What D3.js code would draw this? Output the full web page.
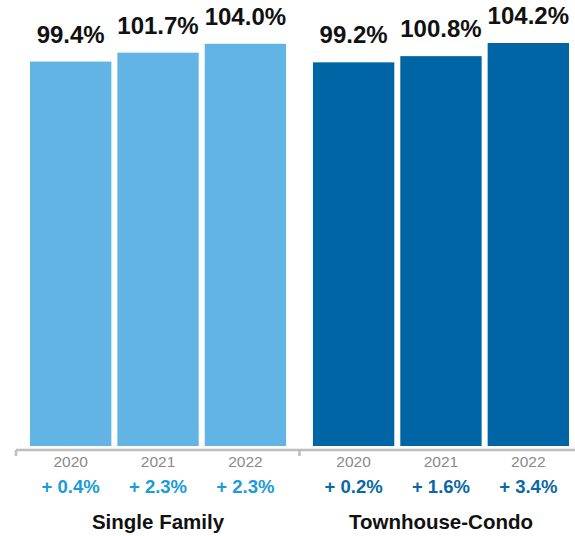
<!DOCTYPE html>
<html>
<head>
<meta charset="utf-8">
<script src="https://cdn.jsdelivr.net/npm/d3@7"></script>
<style>
  html, body { margin: 0; padding: 0; background: #fff; }
  svg { display: block; font-family: "Liberation Sans", Arial, Helvetica, sans-serif; }
</style>
</head>
<body>
<div id="chart"></div>
<script>
const groups = ["Single Family", "Townhouse-Condo"];
const years = ["2020", "2021", "2022"];
const singleFamilyValues = [99.4, 101.7, 104.0];
const townhouseValues = [99.2, 100.8, 104.2];
const singleFamilyChanges = ["+ 0.4%", "+ 2.3%", "+ 2.3%"];
const townhouseChanges = ["+ 0.2%", "+ 1.6%", "+ 3.4%"];

const barColors = ["#62b4e4", "#0065a4"];
const changeColors = ["#1b9bd8", "#0b67a6"];

const W = 575, H = 536;
const svg = d3.select("#chart").append("svg").attr("width", W).attr("height", H);

const data = [
  { group: groups[0], values: singleFamilyValues, changes: singleFamilyChanges },
  { group: groups[1], values: townhouseValues, changes: townhouseChanges }
];

const x0 = d3.scaleBand().domain(groups).range([30, 569]).paddingInner(0.095).paddingOuter(0);
const x1 = d3.scaleBand().domain(years).range([0, x0.bandwidth()]).paddingInner(0.0687).paddingOuter(0);
const y = d3.scaleLinear().domain([0, 104.2]).range([446, 43]);

// axis bracket
const axisY = 450;
const ext = 14;
const axisG = svg.append("g");
axisG.append("line")
  .attr("x1", x0(groups[0]) - ext).attr("x2", x0(groups[1]) + x0.bandwidth() + ext)
  .attr("y1", axisY).attr("y2", axisY)
  .attr("stroke", "#bdbdbd").attr("stroke-width", 2.5);
const tickXs = [x0(groups[0]) - ext, (x0(groups[0]) + x0.bandwidth() + x0(groups[1])) / 2, x0(groups[1]) + x0.bandwidth() + ext];
axisG.selectAll("line.tick").data(tickXs).join("line")
  .attr("class", "tick")
  .attr("x1", d => d).attr("x2", d => d)
  .attr("y1", axisY).attr("y2", axisY + 6)
  .attr("stroke", "#bdbdbd").attr("stroke-width", 2.5);

const g = svg.selectAll("g.grp").data(data).join("g")
  .attr("class", "grp")
  .attr("transform", d => `translate(${x0(d.group)},0)`);

g.each(function(d, gi) {
  const sel = d3.select(this);
  const rows = years.map((yr, i) => ({ yr, v: d.values[i], c: d.changes[i] }));
  sel.selectAll("rect").data(rows).join("rect")
    .attr("x", r => x1(r.yr))
    .attr("y", r => y(r.v))
    .attr("width", x1.bandwidth())
    .attr("height", r => y(0) - y(r.v))
    .attr("fill", barColors[gi]);
  sel.selectAll("text.val").data(rows).join("text")
    .attr("class", "val")
    .attr("x", r => x1(r.yr) + x1.bandwidth() / 2)
    .attr("y", r => y(r.v) - 19)
    .attr("text-anchor", "middle")
    .attr("font-size", 24).attr("font-weight", "bold").attr("fill", "#111")
    .text(r => r.v.toFixed(1) + "%");
  sel.selectAll("text.yr").data(rows).join("text")
    .attr("class", "yr")
    .attr("x", r => x1(r.yr) + x1.bandwidth() / 2)
    .attr("y", 467)
    .attr("text-anchor", "middle")
    .attr("font-size", 15.5).attr("fill", "#8a8a8a")
    .text(r => r.yr);
  sel.selectAll("text.chg").data(rows).join("text")
    .attr("class", "chg")
    .attr("x", r => x1(r.yr) + x1.bandwidth() / 2)
    .attr("y", 493)
    .attr("text-anchor", "middle")
    .attr("font-size", 18.5).attr("font-weight", "bold").attr("fill", changeColors[gi])
    .text(r => r.c);
  sel.append("text")
    .attr("x", x0.bandwidth() / 2)
    .attr("y", 529)
    .attr("text-anchor", "middle")
    .attr("font-size", 20.5).attr("font-weight", "bold").attr("fill", "#111")
    .text(d.group);
});
</script>
</body>
</html>
